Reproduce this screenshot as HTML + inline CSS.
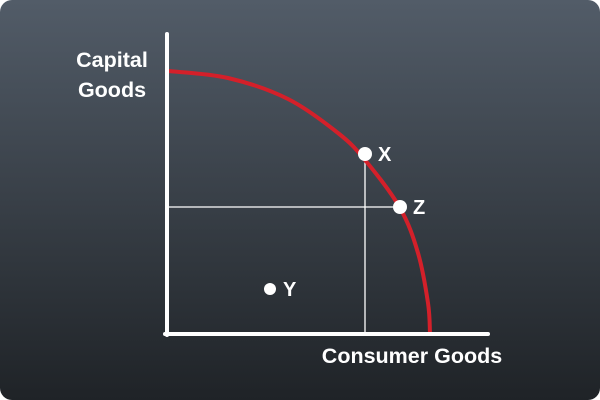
<!DOCTYPE html>
<html><head><meta charset="utf-8"><style>
html,body{margin:0;padding:0;background:#fff;}
svg{display:block;font-family:"Liberation Sans",sans-serif;}
</style></head><body>
<svg width="600" height="400" viewBox="0 0 600 400">
<defs><linearGradient id="bg" x1="0" y1="0" x2="0" y2="1">
<stop offset="0" stop-color="#525c68"/><stop offset="1" stop-color="#1f2327"/></linearGradient></defs>
<rect x="0" y="0" width="600" height="400" rx="12" fill="url(#bg)"/>
<g id="plot"></g>
<text x="112" y="67" fill="#fff" font-size="21.5" font-weight="bold" text-anchor="middle">Capital</text>
<text x="112" y="97" fill="#fff" font-size="21.5" font-weight="bold" text-anchor="middle">Goods</text>
<text x="412" y="363" fill="#fff" font-size="21.5" font-weight="bold" text-anchor="middle">Consumer Goods</text>
</svg>
<script>
const curveX=[0,60,120,170,197,232,250,260,262];
const curveY=[262,255,234,200,173,125,80,30,0];
const pointLabels=["X","Z","Y"];
const pointX=[197,232,102];
const pointY=[179,126,44];
const pointR=[7,7,6];
const guideX=197, guideY=126;
const ox=168, oy=333;
function sx(v){return ox+v;}
function sy(v){return oy-v;}
const NS="http://www.w3.org/2000/svg";
const g=document.getElementById('plot');
function mk(t,a){const e=document.createElementNS(NS,t);for(const k in a)e.setAttribute(k,a[k]);g.appendChild(e);return e;}
let e;
e=mk('line',{x1:sx(guideX),y1:sy(pointY[0]),x2:sx(guideX),y2:oy,stroke:'#fff','stroke-width':1.3});


e=mk('line',{x1:ox,y1:sy(guideY),x2:sx(pointX[1]),y2:sy(guideY),stroke:'#fff','stroke-width':1.3});


const P=curveX.map((x,i)=>[sx(x),sy(curveY[i])]);
let d='M'+P[0][0]+','+P[0][1];
for(let i=0;i<P.length-1;i++){
 const p0=P[i-1]||P[i],p1=P[i],p2=P[i+1],p3=P[i+2]||P[i+1];
 const c1=[p1[0]+(p2[0]-p0[0])/6,p1[1]+(p2[1]-p0[1])/6];
 const c2=[p2[0]-(p3[0]-p1[0])/6,p2[1]-(p3[1]-p1[1])/6];
 d+=' C'+c1+' '+c2+' '+p2;
}
e=mk('path',{d:d,fill:'none',stroke:'#d4202a','stroke-width':4});


e=mk('line',{x1:167,y1:34,x2:167,y2:335,stroke:'#fff','stroke-width':4,'stroke-linecap':'round'});


e=mk('line',{x1:165,y1:334,x2:488,y2:334,stroke:'#fff','stroke-width':4,'stroke-linecap':'round'});


pointLabels.forEach((lab,i)=>{
 const c=mk('circle',{cx:sx(pointX[i]),cy:sy(pointY[i]),r:pointR[i],fill:'#fff'});
 
 
 const t=mk('text',{x:sx(pointX[i])+13,y:sy(pointY[i])+7,fill:'#fff','font-size':20,'font-weight':'bold'});
 t.textContent=lab;
 
 
});
</script>
</body></html>
